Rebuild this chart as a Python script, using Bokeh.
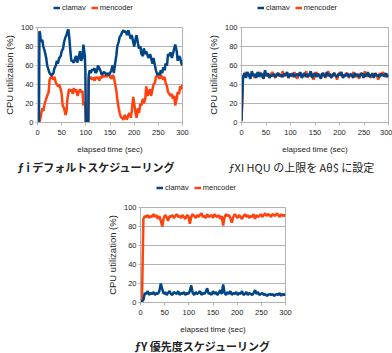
from bokeh.plotting import figure
from bokeh.models import Legend, LegendItem, Title, Range1d, FixedTicker, Spacer
from bokeh.layouts import column, row
from bokeh.embed import file_html
from bokeh.resources import INLINE

BLUE = "#004586"
ORANGE = "#ff420e"
GRID = "#b3b3b3"

# ---- (a) default scheduling ----
clamav_a_t = [0, 3, 4, 5, 7, 10, 12, 15, 18, 20, 23, 25, 28, 30, 33, 35, 38, 40, 42, 45, 48, 50, 53, 55, 58, 60, 62, 64, 66, 68, 70, 72, 75, 78, 80, 82, 85, 88, 90, 93, 95, 98, 99, 100, 105, 106, 108, 110, 113, 115, 118, 120, 123, 125, 128, 130, 133, 135, 138, 140, 143, 145, 148, 150, 153, 155, 158, 160, 163, 165, 168, 170, 173, 175, 178, 180, 183, 185, 188, 190, 193, 195, 198, 200, 203, 205, 208, 210, 213, 215, 218, 220, 223, 225, 228, 230, 233, 235, 238, 240, 243, 245, 248, 250, 253, 255, 258, 260, 263, 265, 268, 270, 273, 275, 278, 280, 283, 285, 288, 290, 293, 295, 298, 300]
clamav_a_v = [0, 0, 96, 95, 85, 87, 80, 75, 68, 60, 55, 52, 50, 50, 52, 57, 60, 65, 62, 68, 70, 75, 78, 85, 90, 92, 96, 98, 88, 75, 65, 65, 63, 68, 70, 63, 68, 75, 65, 68, 82, 70, 55, 0, 0, 50, 55, 52, 56, 55, 57, 52, 54, 60, 57, 55, 50, 52, 53, 52, 50, 52, 50, 52, 55, 60, 52, 60, 70, 80, 85, 90, 92, 95, 97, 95, 96, 92, 97, 93, 88, 92, 85, 80, 88, 92, 83, 78, 80, 72, 70, 78, 72, 75, 70, 68, 72, 68, 62, 68, 60, 55, 50, 52, 50, 55, 52, 58, 55, 62, 60, 72, 70, 74, 68, 72, 78, 82, 75, 65, 70, 68, 62, 60]
mencoder_a_t = [0, 3, 5, 8, 10, 12, 15, 18, 20, 23, 25, 28, 30, 33, 35, 38, 40, 43, 45, 48, 50, 52, 55, 58, 60, 62, 65, 68, 70, 73, 75, 78, 80, 83, 85, 88, 90, 93, 95, 98, 99, 100, 105, 106, 108, 110, 113, 115, 118, 120, 123, 125, 128, 130, 133, 135, 138, 140, 143, 145, 148, 150, 153, 155, 158, 160, 163, 165, 168, 170, 173, 175, 178, 180, 183, 185, 188, 190, 193, 195, 198, 200, 203, 205, 208, 210, 213, 215, 218, 220, 223, 225, 228, 230, 233, 235, 238, 240, 243, 245, 248, 250, 253, 255, 258, 260, 263, 265, 268, 270, 273, 275, 278, 280, 283, 285, 288, 290, 293, 295, 298, 300]
mencoder_a_v = [0, 0, 2, 10, 15, 12, 20, 25, 28, 32, 45, 48, 48, 45, 48, 42, 40, 38, 40, 35, 30, 18, 15, 8, 12, 25, 35, 33, 35, 30, 36, 32, 35, 28, 32, 35, 32, 33, 18, 22, 16, 0, 0, 47, 46, 48, 45, 47, 44, 48, 46, 48, 44, 48, 47, 50, 48, 50, 48, 50, 50, 48, 46, 50, 48, 42, 34, 25, 15, 10, 5, 5, 3, 8, 5, 3, 8, 10, 5, 12, 27, 20, 10, 5, 15, 10, 20, 18, 25, 20, 25, 38, 28, 32, 35, 28, 35, 40, 42, 48, 50, 48, 46, 50, 48, 45, 48, 42, 38, 32, 30, 28, 30, 25, 28, 18, 25, 32, 30, 38, 35, 40]

# ---- (b) CPU cap ----
step_b = 3
clamav_b_v = [2, 48, 52, 47, 53, 50, 46, 54, 49, 51,
              47, 53, 48, 52, 50, 46, 55, 49, 52, 47,
              50, 49, 51, 48, 50, 52, 49, 50, 48, 51,
              50, 53, 47, 51, 49, 52, 48, 50, 51, 49,
              53, 47, 50, 52, 48, 51, 49, 54, 47, 50,
              52, 48, 51, 49, 46, 52, 50, 48, 53, 49,
              51, 47, 50, 52, 49, 48, 51, 50, 53, 47,
              50, 49, 52, 48, 51, 50, 47, 52, 49, 51,
              48, 50, 52, 47, 51, 49, 53, 48, 50, 51,
              47, 52, 49, 50, 48, 51, 50, 49, 52, 48,
              50]
mencoder_b_v = [1, 47, 50, 53, 49, 51, 48, 52, 50, 47,
                51, 49, 53, 50, 48, 51, 52, 49, 50, 48,
                51, 53, 50, 47, 52, 49, 51, 48, 54, 50,
                49, 52, 47, 51, 50, 48, 53, 49, 46, 52,
                50, 51, 48, 50, 54, 47, 51, 49, 52, 45,
                50, 53, 49, 51, 48, 50, 52, 47, 50, 54,
                49, 51, 48, 52, 50, 45, 51, 53, 49, 50,
                48, 52, 51, 47, 50, 49, 53, 50, 48, 51,
                46, 52, 50, 49, 54, 48, 51, 50, 47, 52,
                49, 51, 50, 45, 52, 49, 53, 50, 48, 51,
                49]

# ---- (c) priority scheduling ----
step_c = 3
clamav_c_v = [0, 1, 3, 10, 9, 12, 8, 10, 9, 11,
              8, 10, 9, 12, 20, 14, 9, 11, 8, 10,
              12, 9, 8, 11, 10, 9, 12, 8, 10, 9,
              11, 8, 10, 9, 12, 18, 10, 8, 11, 9,
              10, 12, 8, 10, 9, 11, 15, 9, 10, 8,
              12, 9, 11, 8, 10, 13, 9, 19, 10, 8,
              11, 9, 12, 8, 10, 9, 11, 8, 10, 9,
              12, 8, 9, 11, 8, 10, 9, 8, 10, 13,
              9, 11, 8, 9, 10, 8, 9, 7, 8, 9,
              8, 9, 7, 8, 9, 8, 10, 7, 9, 8,
              9]
mencoder_c_v = [0, 1, 88, 91, 90, 92, 89, 91, 90, 93,
                90, 92, 88, 91, 86, 80, 89, 92, 90, 86,
                91, 90, 92, 89, 91, 93, 90, 91, 89, 92,
                90, 88, 92, 91, 83, 90, 93, 91, 89, 92,
                90, 92, 94, 90, 91, 89, 93, 90, 91, 92,
                89, 93, 91, 90, 92, 88, 91, 81, 90, 93,
                91, 92, 89, 84, 90, 93, 91, 89, 92, 90,
                88, 91, 93, 90, 92, 89, 91, 90, 93, 88,
                92, 90, 91, 93, 90, 92, 94, 91, 93, 92,
                90, 93, 92, 91, 94, 92, 90, 93, 91, 92,
                91]

x_ticks = [0, 50, 100, 150, 200, 250, 300]
y_ticks = [0, 20, 40, 60, 80, 100]
series_names = ["clamav", "mencoder"]
captions = ["ƒ i デフォルトスケジューリング",
            "ƒXI HQU の上限を Aθ$ に設定",
            "ƒY 優先度スケジューリング"]

FONT = "Liberation Sans"
CJK = "Noto Sans CJK JP"
NAN = float("nan")


def blank(width, height):
    f = figure(width=width, height=height, output_backend="svg", toolbar_location=None,
               x_axis_type=None, y_axis_type=None, x_range=Range1d(0, 1), y_range=Range1d(0, 1),
               min_border=0, background_fill_color="white", border_fill_color="white")
    f.outline_line_color = None
    f.grid.visible = False
    return f


def legend_fig(width):
    f = blank(width, 22)
    # legend-only renderers (no visible data)
    rb = f.line(x=[NAN], y=[NAN], line_color=BLUE, line_width=2.5)
    ro = f.line(x=[NAN], y=[NAN], line_color=ORANGE, line_width=2.5)
    leg = Legend(items=[LegendItem(label=series_names[0], renderers=[rb]),
                        LegendItem(label=series_names[1], renderers=[ro])],
                 orientation="horizontal", location=(16, 10),
                 glyph_width=7, glyph_height=9, label_height=9,
                 label_text_font=FONT, label_text_font_size="7.5px", label_text_color="#222222",
                 label_standoff=2, spacing=5, padding=0, margin=0,
                 border_line_color=None, background_fill_alpha=0)
    f.add_layout(leg)
    return f


def caption_fig(width, height, text, offset, style):
    f = blank(width, height)
    f.add_layout(Title(text=text, align="left", offset=offset, text_font=CJK,
                       text_font_size="11px", text_font_style=style,
                       text_color="#222222", standoff=0), "above")
    return f


def plot_fig(width, bl, br, cl_t, cl_v, me_t, me_v):
    p = figure(width=width, height=134, output_backend="svg", toolbar_location=None,
               x_range=Range1d(0, 300), y_range=Range1d(0, 100),
               min_border_left=bl, min_border_right=br, min_border_top=5, min_border_bottom=32,
               background_fill_color="white", border_fill_color="white")
    p.outline_line_color = GRID
    p.xgrid.visible = False
    p.ygrid.grid_line_color = GRID
    p.ygrid.ticker = FixedTicker(ticks=y_ticks)
    p.xaxis.ticker = FixedTicker(ticks=x_ticks)
    p.yaxis.ticker = FixedTicker(ticks=y_ticks)
    for ax in (p.xaxis[0], p.yaxis[0]):
        ax.axis_line_color = GRID
        ax.major_tick_line_color = GRID
        ax.minor_tick_line_color = None
        ax.major_tick_in = 0
        ax.major_label_text_font = FONT
        ax.major_label_text_font_size = "7.5px"
        ax.major_label_text_color = "#222222"
        ax.axis_label_text_font = FONT
        ax.axis_label_text_font_style = "normal"
        ax.axis_label_text_color = "#222222"
    p.xaxis.major_tick_out = 3
    p.xaxis.major_label_standoff = 4
    p.xaxis.axis_label = "elapsed time (sec)"
    p.xaxis.axis_label_text_font_size = "8px"
    p.xaxis.axis_label_standoff = 7
    p.yaxis.major_tick_out = 2
    p.yaxis.major_label_standoff = 2
    p.yaxis.axis_label = "CPU utilization (%)"
    p.yaxis.axis_label_text_font_size = "9.5px"
    p.yaxis.axis_label_standoff = 3

    p.line(me_t, me_v, line_color=ORANGE, line_width=2.5)
    p.line(cl_t, cl_v, line_color=BLUE, line_width=2.5)
    return p


tb = [step_b * i for i in range(len(clamav_b_v))]
tc = [step_c * i for i in range(len(clamav_c_v))]

col_a = column(legend_fig(196),
               plot_fig(196, 36, 14, clamav_a_t, clamav_a_v, mencoder_a_t, mencoder_a_v),
               caption_fig(196, 24, captions[0], -20, "bold"))
col_b = column(legend_fig(196),
               plot_fig(196, 45, 4, tb, clamav_b_v, tb, mencoder_b_v),
               caption_fig(196, 24, captions[1], -13, "normal"))
col_c = column(legend_fig(196),
               plot_fig(196, 36, 14, tc, clamav_c_v, tc, mencoder_c_v),
               caption_fig(196, 17, captions[2], -6, "bold"))

layout = column(row(col_a, col_b), row(Spacer(width=103, height=173), col_c))
open("out.html", "w").write(file_html(layout, INLINE))
